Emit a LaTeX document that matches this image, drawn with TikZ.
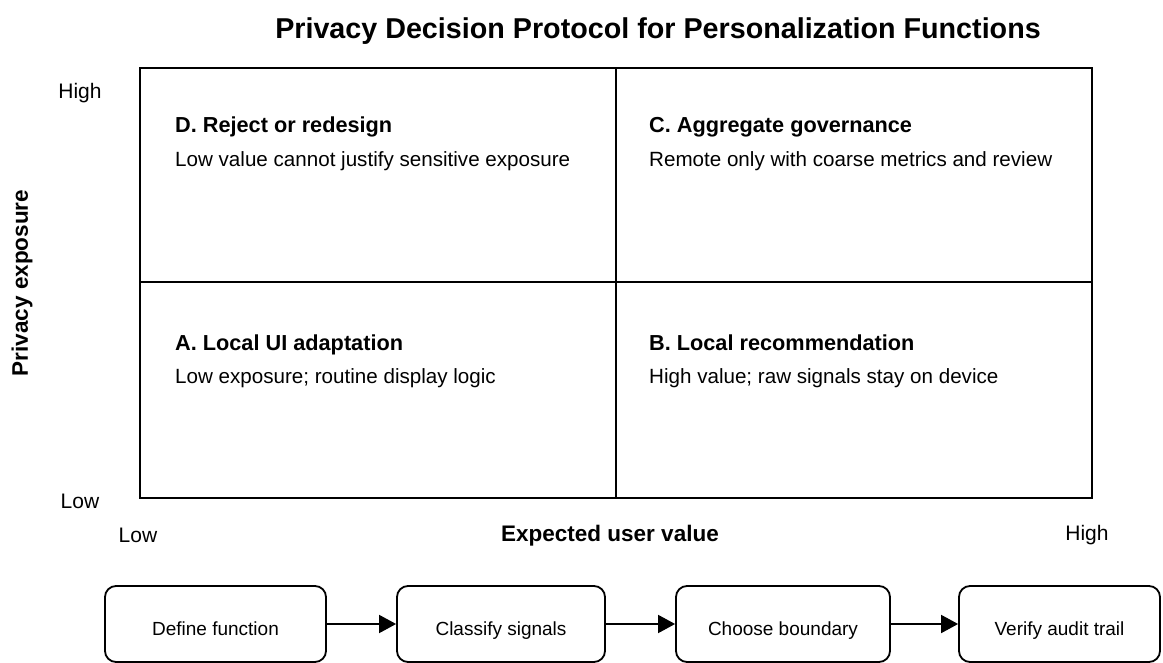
\documentclass[tikz,border=0pt]{standalone}
\usepackage{fontspec}
\setmainfont{Liberation Sans}
\usetikzlibrary{arrows.meta}
\tikzset{>={Triangle[length=17pt,width=18pt]}}

\begin{document}
\begin{tikzpicture}[x=1pt,y=-1pt,
    stepbox/.style={draw, line width=1.8pt, rounded corners=11pt, minimum height=76pt,
      text height=22pt, text depth=0pt, font=\fontsize{19}{22}\selectfont},
    quadhead/.style={anchor=base west, inner sep=0pt, font=\bfseries\fontsize{21.7}{26}\selectfont},
    quadtext/.style={anchor=base west, inner sep=0pt, font=\fontsize{20.6}{24}\selectfont},
    ticklabel/.style={font=\fontsize{21}{24}\selectfont},
    axislabel/.style={font=\bfseries\fontsize{22.5}{26}\selectfont}]
    \useasboundingbox (0,0) rectangle (1163,663);
    \node (title) at (658,31) {\bfseries\fontsize{28.7}{33}\selectfont Privacy Decision Protocol for Personalization Functions};
    % the four quadrants
    \draw[line width=2pt] (140,68) rectangle (1092,498);
    \draw[line width=2pt] (616,68) -- (616,498);
    \draw[line width=2pt] (140,282) -- (1092,282);
    \node[quadhead] (dhead) at (175,133) {D. Reject or redesign};
    \node[quadtext] (dtext) at (175,167) {Low value cannot justify sensitive exposure};
    \node[quadhead] (chead) at (649,133) {C. Aggregate governance};
    \node[quadtext] (ctext) at (649,167) {Remote only with coarse metrics and review};
    \node[quadhead] (ahead) at (175,350) {A. Local UI adaptation};
    \node[quadtext] (atext) at (175,384) {Low exposure; routine display logic};
    \node[quadhead] (bhead) at (649,350) {B. Local recommendation};
    \node[quadtext] (btext) at (649,384) {High value; raw signals stay on device};
    % axes
    \node[ticklabel] (yhigh) at (80,93) {High};
    \node[ticklabel] (ylow) at (80,501) {Low};
    \node[ticklabel] (xlow) at (138,535) {Low};
    \node[ticklabel] (xhigh) at (1087,535) {High};
    \node[axislabel] (xaxis) at (610,536) {Expected user value};
    \node[axislabel, rotate=90] (yaxis) at (22,283) {Privacy exposure};
    % protocol steps
    \node[stepbox, minimum width=221pt] (define) at (215.5,624) {Define function};
    \node[stepbox, minimum width=208pt] (classify) at (501,624) {Classify signals};
    \node[stepbox, minimum width=214pt] (boundary) at (783,624) {Choose boundary};
    \node[stepbox, minimum width=201pt] (verify) at (1059.5,624) {Verify audit trail};
    \draw[->, line width=1.8pt] (define) -- (classify);
    \draw[->, line width=1.8pt] (classify) -- (boundary);
    \draw[->, line width=1.8pt] (boundary) -- (verify);
\end{tikzpicture}
\end{document}
